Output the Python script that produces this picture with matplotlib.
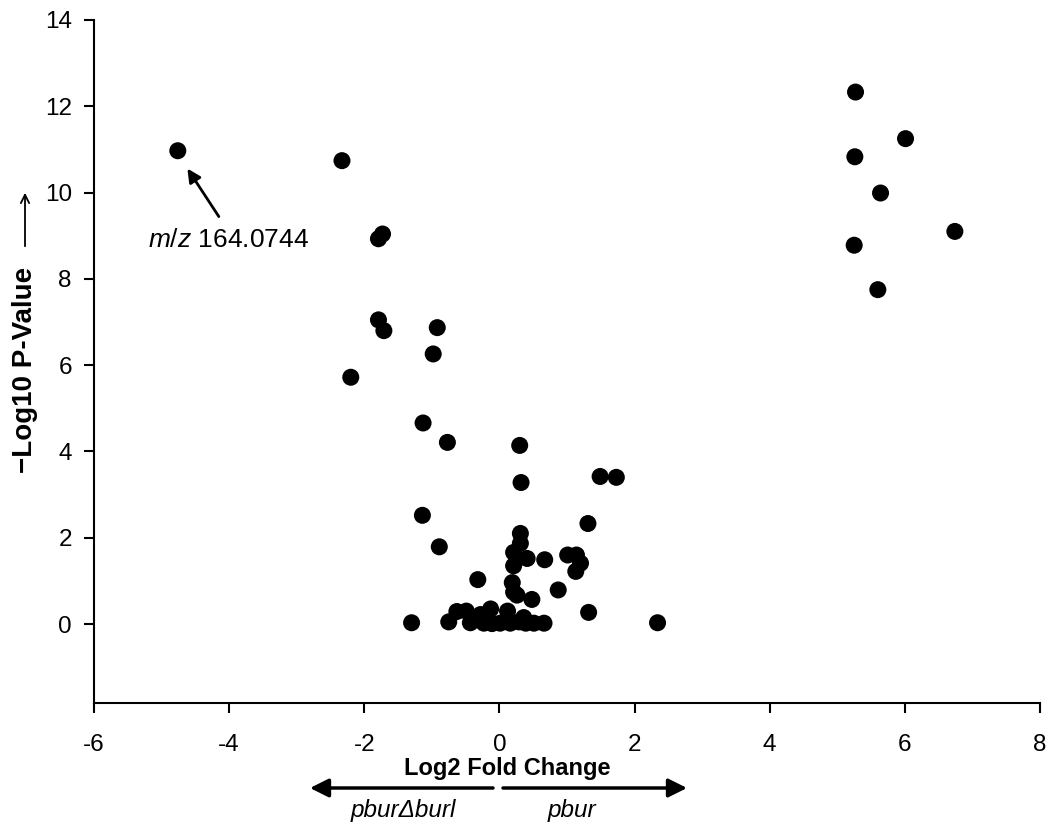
import matplotlib
matplotlib.use("Agg")
import matplotlib.pyplot as plt
from matplotlib.patches import FancyArrowPatch

plt.rcParams['font.family'] = ['Liberation Sans', 'DejaVu Sans']
plt.rcParams['axes.unicode_minus'] = False
plt.rcParams['mathtext.fontset'] = 'custom'
plt.rcParams['mathtext.it'] = 'Liberation Sans:italic'
plt.rcParams['mathtext.rm'] = 'Liberation Sans'

# Log2 fold change (x) and -log10 p-value (y)
fold_change = [
    -4.76, -2.33, -1.73, -1.79, -1.79, -1.71, -2.20, -0.92, -0.98, -1.13,
    -0.77, 0.30, 0.32, 1.49, 1.73, -1.14, 1.31, -0.89, -0.32, -1.30,
    2.34, 1.32, 0.87, 0.48, 0.67, 1.01, 1.14, 1.20, 1.13, 0.31,
    0.31, 0.21, 0.41, 0.21, 0.19, 0.21, 0.26,
    -0.75, -0.63, -0.49, -0.43, -0.28, -0.23, -0.13, -0.11, 0.01, 0.12,
    0.16, 0.29, 0.36, 0.39, 0.51, 0.66,
    5.27, 6.01, 5.26, 5.64, 6.74, 5.25, 5.60,
]
neg_log_p = [
    10.97, 10.74, 9.04, 8.93, 7.05, 6.80, 5.72, 6.87, 6.26, 4.66,
    4.21, 4.14, 3.28, 3.42, 3.40, 2.52, 2.33, 1.79, 1.03, 0.03,
    0.03, 0.27, 0.79, 0.57, 1.49, 1.60, 1.60, 1.41, 1.22, 2.10,
    1.87, 1.66, 1.52, 1.35, 0.96, 0.74, 0.67,
    0.05, 0.29, 0.30, 0.03, 0.22, 0.02, 0.35, 0.01, 0.02, 0.30,
    0.02, 0.05, 0.15, 0.02, 0.02, 0.02,
    12.33, 11.25, 10.83, 9.99, 9.10, 8.78, 7.75,
]
x_ticks = [-6, -4, -2, 0, 2, 4, 6, 8]
y_ticks = [0, 2, 4, 6, 8, 10, 12, 14]

fig = plt.figure(figsize=(10.5, 8.31), dpi=100)
ax = fig.add_axes([94/1050, 1-703/831, (1040-94)/1050, (703-20)/831])

ax.scatter(fold_change, neg_log_p, s=150, color='black', edgecolors='none', zorder=3)

ax.set_xlim(-6, 8)
ax.set_ylim(-1.83, 14)
ax.set_xticks(x_ticks)
ax.set_yticks(y_ticks)
ax.tick_params(labelsize=17.5, width=1.5, length=7, direction='out')
ax.tick_params(axis='x', pad=15)
ax.tick_params(axis='y', pad=9)
for s in ['top', 'right']:
    ax.spines[s].set_visible(False)
for s in ['left', 'bottom']:
    ax.spines[s].set_linewidth(1.5)

# annotation
ax.annotate('', xy=(-4.64, 10.61), xytext=(-4.13, 9.39),
            arrowprops=dict(arrowstyle='-|>', color='black', lw=2, mutation_scale=20))
fig.text(148/1050, 1-240/831, r'$m/z$ 164.0744', fontsize=19, ha='left', va='center')

# y label with arrow
fig.text(25/1050, 1-370/831, '\u2212Log10 P-Value', rotation=90, fontsize=20,
         fontweight='bold', ha='center', va='center')
fig.add_artist(FancyArrowPatch(
    (25/1050, 1-249/831), (25/1050, 1-190/831), transform=fig.transFigure,
    arrowstyle='->', mutation_scale=15, lw=1.3, color='black'))

# x label
fig.text(507/1050, 1-768/831, 'Log2 Fold Change', fontsize=17, fontweight='bold',
         ha='center', va='center')
fig.add_artist(FancyArrowPatch(
    (493/1050, 1-788/831), (310/1050, 1-788/831), transform=fig.transFigure,
    arrowstyle='-|>', mutation_scale=28, lw=2.5, color='black', shrinkA=0, shrinkB=0))
fig.add_artist(FancyArrowPatch(
    (503/1050, 1-788/831), (687/1050, 1-788/831), transform=fig.transFigure,
    arrowstyle='-|>', mutation_scale=28, lw=2.5, color='black', shrinkA=0, shrinkB=0))
fig.text(403/1050, 1-810/831, 'pbur\u0394burl', fontsize=17.5, fontstyle='italic',
         ha='center', va='center')
fig.text(572/1050, 1-810/831, 'pbur', fontsize=17.5, fontstyle='italic',
         ha='center', va='center')

fig.savefig('out.png', dpi=100)
